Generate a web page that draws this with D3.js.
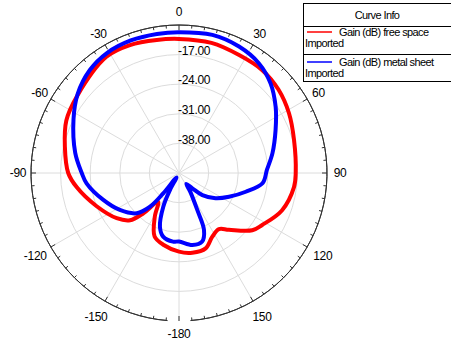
<!DOCTYPE html>
<html>
<head>
<meta charset="utf-8">
<script src="https://cdn.jsdelivr.net/npm/d3@7"></script>
<style>
  body { margin: 0; background: #fff; }
  text { font-family: 'Liberation Sans', Arial, sans-serif; }
</style>
</head>
<body>
<svg id="chart" width="451" height="345"></svg>
<script>
// angles in degrees (0 at top, clockwise), gain in dB
const redAngles = [-180, -168, -159, -151, -144, -138.5, -134, -126, -112, -98, -90, -77, -65, -53, -32, -21, -9.5, 0, 14, 27, 39, 50, 61.5, 74, 90, 97, 110, 122, 128, 138.7, 144.6, 152.4, 160.5, 170.5]
const redGain = [-26.4, -27.6, -28.9, -33.2, -36.6, -32.3, -28.9, -26.8, -24.0, -20.6, -18.8, -17.3, -15.6, -14.8, -12.6, -12.6, -13.1, -13.3, -13.3, -13.7, -13.7, -14.3, -15.4, -16.7, -17.4, -17.6, -19.1, -21.8, -23.0, -27.1, -28.7, -28.0, -26.1, -25.9]

const blueAngles = [-180, -175, -166, -160.5, -155, -152, -150, -142.3, -139.3, -133.6, -122, -109.6, -96.4, -90, -79, -63, -52, -41, -31, -20, -9, 0, 13.6, 25.4, 36, 45.6, 55.6, 66, 78, 88, 97, 105.7, 115.4, 124.6, 133.4, 139, 146, 149, 153.7, 156.3, 161.3, 169.5]
const blueGain = [-28.8, -28.7, -29.5, -31.5, -36.2, -40.5, -43.8, -38.9, -34.5, -31.2, -28.5, -26.0, -23.0, -22.0, -20.0, -17.0, -14.6, -12.8, -11.9, -11.65, -11.7, -11.7, -11.4, -11.9, -12.9, -14.7, -17.3, -20.0, -22.4, -24.2, -25.1, -28.6, -31.9, -34.5, -37.4, -40.2, -41.9, -39.8, -35.2, -30.3, -27.9, -27.7]

const ringValues = [-38, -31, -24, -17]
const ringLabels = ['-38.00', '-31.00', '-24.00', '-17.00']
const angleTicks = [0, 30, 60, 90, 120, 150, 180, -150, -120, -90, -60, -30]
const angleLabels = ['0', '30', '60', '90', '120', '150', '-180', '-150', '-120', '-90', '-60', '-30']

const series = [
  { name: 'Gain (dB) free space', color: '#ff0000', angles: redAngles, gain: redGain },
  { name: 'Gain (dB) metal sheet', color: '#0000ff', angles: blueAngles, gain: blueGain }
]

const cx = 179
const cy = 173
const outerR = 148
const rad = d => d * Math.PI / 180

const svg = d3.select('#chart')
const g = svg.append('g').attr('transform', `translate(${cx},${cy})`)

const rScale = d3.scaleLinear().domain([-45, -10]).range([0, outerR])

// grille
g.selectAll('.ring')
  .data(ringValues)
  .join('circle')
  .attr('r', d => rScale(d))
  .attr('fill', 'none')
  .attr('stroke', '#dcdcdc')
  .attr('stroke-width', 1)

g.selectAll('.spoke')
  .data(angleTicks)
  .join('line')
  .attr('x1', 0)
  .attr('y1', 0)
  .attr('x2', d => outerR * Math.sin(rad(d)))
  .attr('y2', d => -outerR * Math.cos(rad(d)))
  .attr('stroke', '#dcdcdc')
  .attr('stroke-width', 1)

// cercle extérieur (petite coupure en bas comme l'original)
g.append('path')
  .attr('d', d3.arc()({ innerRadius: outerR, outerRadius: outerR, startAngle: rad(-175.5), endAngle: rad(175.5) }))
  .attr('fill', 'none')
  .attr('stroke', '#333')
  .attr('stroke-width', 1)

const minorTicks = d3.range(-175, 185, 5)
g.selectAll('.tick')
  .data(minorTicks)
  .join('line')
  .attr('x1', d => outerR * Math.sin(rad(d)))
  .attr('y1', d => -outerR * Math.cos(rad(d)))
  .attr('x2', d => (outerR - (d % 30 === 0 ? 5 : 3)) * Math.sin(rad(d)))
  .attr('y2', d => -(outerR - (d % 30 === 0 ? 5 : 3)) * Math.cos(rad(d)))
  .attr('stroke', '#333')
  .attr('stroke-width', 1)

// étiquettes des anneaux
g.selectAll('.ring-label')
  .data(ringValues)
  .join('text')
  .attr('x', -1)
  .attr('y', d => -rScale(d) - 4)
  .attr('dy', '0.35em')
  .attr('font-size', 12)
  .attr('fill', '#000')
  .style('letter-spacing', '-0.3px')
  .text((d, i) => ringLabels[i])

// étiquettes des angles
const labelR = d => (Math.abs(d) > 100 && Math.abs(d) < 170) ? 166 : 161
g.selectAll('.angle-label')
  .data(angleTicks)
  .join('text')
  .attr('x', d => labelR(d) * Math.sin(rad(d)))
  .attr('y', d => -labelR(d) * Math.cos(rad(d)))
  .attr('dy', '0.35em')
  .attr('text-anchor', 'middle')
  .attr('font-size', 12)
  .attr('fill', '#000')
  .style('letter-spacing', '-0.3px')
  .text((d, i) => angleLabels[i])

// courbes
const line = d3.lineRadial()
  .angle(d => rad(d[0]))
  .radius(d => rScale(d[1]))
  .curve(d3.curveCatmullRomClosed.alpha(0.5))

g.selectAll('.curve')
  .data(series)
  .join('path')
  .attr('d', s => line(s.angles.map((a, i) => [a, s.gain[i]])))
  .attr('fill', 'none')
  .attr('stroke', s => s.color)
  .attr('stroke-width', 4)
  .attr('stroke-linejoin', 'round')

// légende
const legend = svg.append('g').attr('transform', 'translate(303,3)')
legend.append('rect')
  .attr('x', 0.5).attr('y', 0.5).attr('width', 160).attr('height', 78)
  .attr('fill', '#fff').attr('stroke', '#000').attr('stroke-width', 1)
legend.append('line').attr('x1', 0).attr('x2', 160).attr('y1', 23.5).attr('y2', 23.5).attr('stroke', '#000')
legend.append('line').attr('x1', 0).attr('x2', 160).attr('y1', 51.5).attr('y2', 51.5).attr('stroke', '#000')
legend.append('text')
  .attr('x', 74).attr('y', 12).attr('dy', '0.35em')
  .attr('text-anchor', 'middle').attr('font-size', 11)
  .style('letter-spacing', '-0.6px')
  .text('Curve Info')

series.forEach((s, i) => {
  const y0 = 29 + i * 30
  legend.append('line')
    .attr('x1', 4).attr('x2', 29).attr('y1', y0).attr('y2', y0)
    .attr('stroke', s.color).attr('stroke-width', 1.5)
  legend.append('text')
    .attr('x', 36).attr('y', y0).attr('dy', '0.35em')
    .attr('font-size', 11).style('letter-spacing', '-0.6px')
    .text(s.name)
  legend.append('text')
    .attr('x', 2).attr('y', y0 + 11).attr('dy', '0.35em')
    .attr('font-size', 11).style('letter-spacing', '-0.6px')
    .text('Imported')
})
</script>
</body>
</html>
